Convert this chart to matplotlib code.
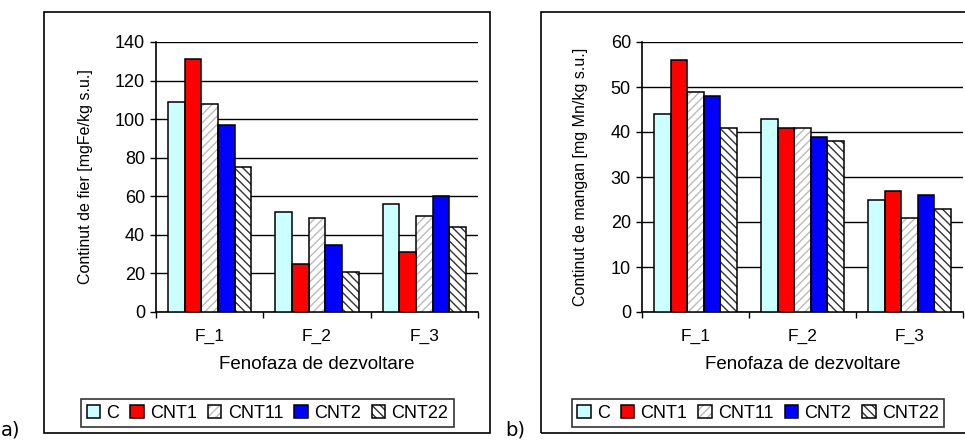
import matplotlib

matplotlib.use("Agg")
import matplotlib.pyplot as plt
import numpy as np
from matplotlib.patches import Rectangle

plt.rcParams["font.family"] = ["Liberation Sans", "DejaVu Sans"]
plt.rcParams["hatch.linewidth"] = 1.0

phases = ["F_1", "F_2", "F_3"]
series = ["C", "CNT1", "CNT11", "CNT2", "CNT22"]

fe_C = [109, 52, 56]
fe_CNT1 = [131, 25, 31]
fe_CNT11 = [108, 49, 50]
fe_CNT2 = [97, 35, 60]
fe_CNT22 = [75, 21, 44]

mn_C = [44, 43, 25]
mn_CNT1 = [56, 41, 27]
mn_CNT11 = [49, 41, 21]
mn_CNT2 = [48, 39, 26]
mn_CNT22 = [41, 38, 23]

# face, hatch, hatch colour per series
styles = [
    ("#ccffff", None, "black"),
    ("#ff0000", None, "black"),
    ("white", "////", "#bbbbbb"),
    ("#0000ff", None, "black"),
    ("white", "\\\\\\\\", "#333333"),
]

W, H = 965, 445
fig = plt.figure(figsize=(W / 100, H / 100), dpi=100)


def px(x0, y0, x1, y1):
    return [x0 / W, 1 - y1 / H, (x1 - x0) / W, (y1 - y0) / H]


def panel(frame, plot_box, leg_box, data, ymax, ystep, ylabel, ylab_x, tag, tag_x):
    fig.add_artist(Rectangle((frame[0] / W, 1 - frame[3] / H),
                             (frame[2] - frame[0]) / W, (frame[3] - frame[1]) / H,
                             transform=fig.transFigure, fill=False,
                             edgecolor="black", lw=1.2))
    ax = fig.add_axes(px(*plot_box))
    x = np.arange(len(phases))
    bw = 0.155
    handles = []
    for i, (vals, (fc, hatch, hc)) in enumerate(zip(data, styles)):
        off = (i - 2) * bw
        fill = ax.bar(x + off, vals, bw, color=fc, edgecolor=hc, lw=0,
                      hatch=hatch, zorder=3)
        edge = ax.bar(x + off, vals, bw, fill=False, edgecolor="black",
                      lw=1.1, zorder=4)
        handles.append((fill, edge))
    ax.set_xlim(-0.5, 2.5)
    ax.set_ylim(0, ymax)
    ax.set_yticks(np.arange(0, ymax + 1, ystep))
    ax.set_xticks([-0.5, 0.5, 1.5, 2.5])
    ax.set_xticklabels([])
    ax.set_xticks(x, minor=True)
    ax.set_xticklabels(phases, minor=True, fontsize=12.5)
    ax.tick_params(axis="x", which="minor", length=0, pad=12)
    ax.tick_params(axis="x", which="major", length=4, direction="out", width=1)
    ax.tick_params(axis="y", length=4, width=1, labelsize=13, pad=4)
    ax.yaxis.grid(True, color="black", lw=1)
    ax.set_axisbelow(True)
    for s in ("top", "right"):
        ax.spines[s].set_visible(False)
    for s in ("left", "bottom"):
        ax.spines[s].set_linewidth(1.2)
    ax.set_ylabel(ylabel, fontsize=11.5, va="center")
    ax.yaxis.set_label_coords(ylab_x, 0.5)
    ax.set_xlabel("Fenofaza de dezvoltare", fontsize=13.5, va="center")
    ax.xaxis.set_label_coords(0.5, -0.196)

    lax = fig.add_axes(px(*leg_box))
    lax.set_axis_off()
    leg = lax.legend(handles, series, loc="center", ncol=5, frameon=True,
                     fontsize=13, handlelength=0.75, handleheight=0.75,
                     handletextpad=0.35, columnspacing=0.6, borderpad=0.3,
                     fancybox=False, bbox_to_anchor=(0.5, 0.5))
    leg.get_frame().set_edgecolor("black")
    leg.get_frame().set_linewidth(1.2)
    fig.text(tag_x / W, 1 - 440 / H, tag, fontsize=14, family="DejaVu Sans",
             va="bottom")
    return ax


panel((44, 12, 490, 433), (156, 42, 478, 312), (81, 398, 454, 428),
      [fe_C, fe_CNT1, fe_CNT11, fe_CNT2, fe_CNT22], 140, 20,
      "Continut de fier [mgFe/kg s.u.]", -0.22, "a)", 1)
panel((541, 12, 990, 433), (642, 42, 963, 312), (572, 398, 944, 428),
      [mn_C, mn_CNT1, mn_CNT11, mn_CNT2, mn_CNT22], 60, 10,
      "Continut de mangan [mg Mn/kg s.u.]", -0.193, "b)", 505)

fig.savefig("out.png", dpi=100)
